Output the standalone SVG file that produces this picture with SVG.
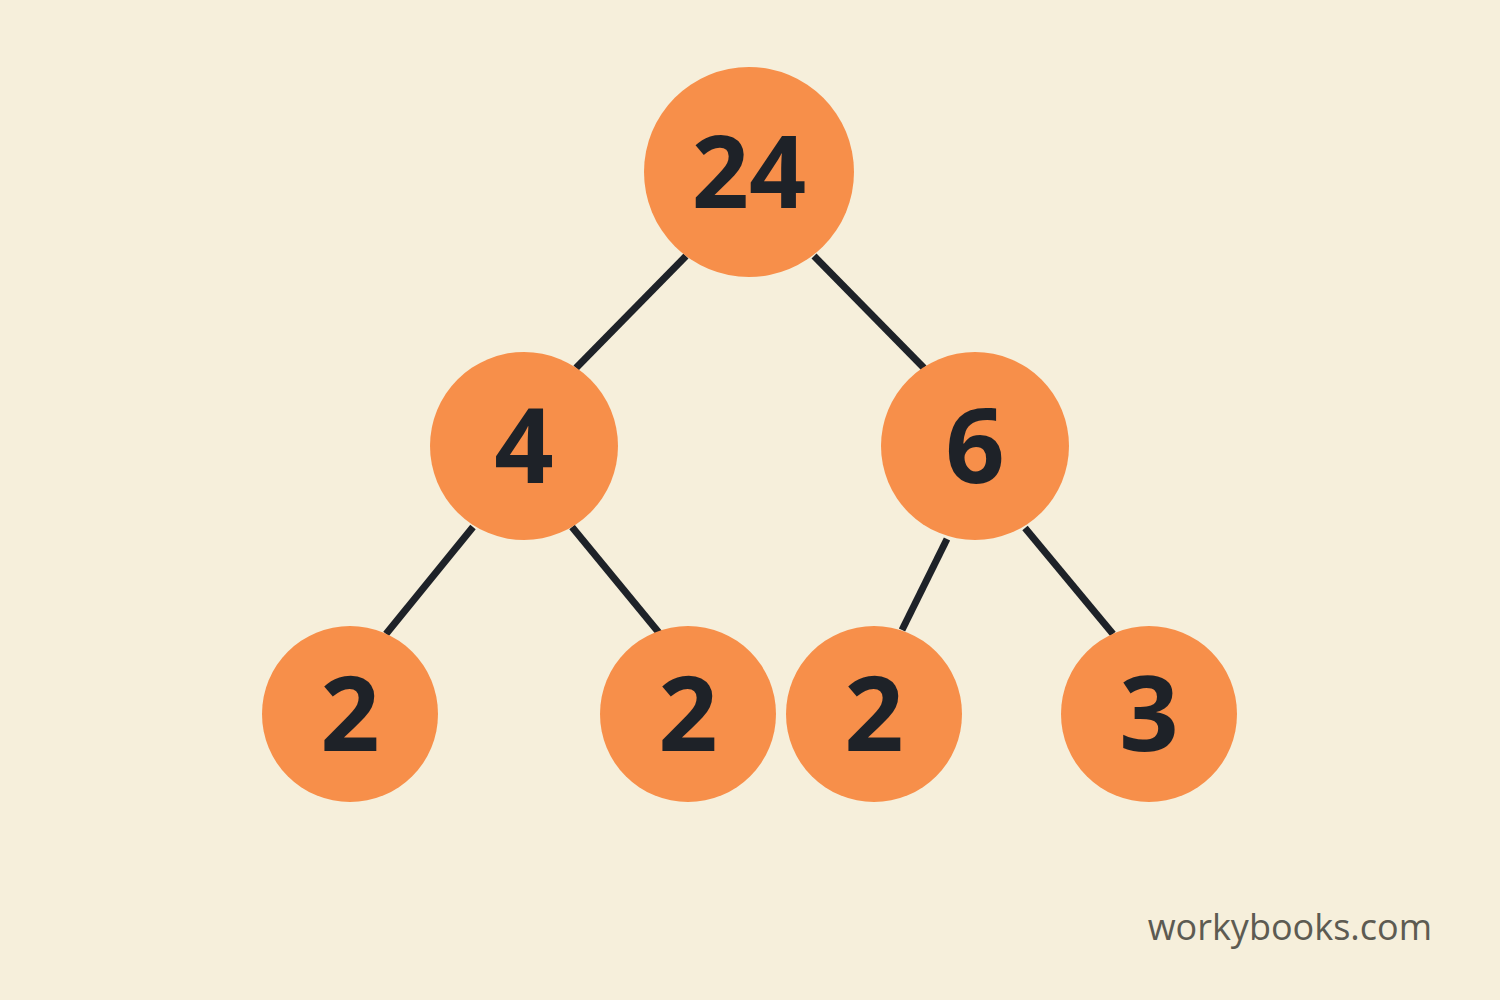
<svg xmlns="http://www.w3.org/2000/svg" width="1500" height="1000" viewBox="0 0 1500 1000">
<style>
.n{fill:#f78f4a}
.t{font-family:"Open Sans","Liberation Sans",sans-serif;font-weight:700;fill:#1e2228;text-anchor:middle}
.e{stroke:#1e2228;stroke-width:7;stroke-linecap:butt}
</style>
<rect width="1500" height="1000" fill="#f6efdb"/>
<g id="connectors">
<line class="e" x1="686" y1="256" x2="576" y2="368"/>
<line class="e" x1="814" y1="256" x2="924" y2="368"/>
<line class="e" x1="473" y1="527" x2="386" y2="634"/>
<line class="e" x1="572" y1="527" x2="660" y2="634"/>
<line class="e" x1="947" y1="539" x2="902" y2="630"/>
<line class="e" x1="1025" y1="528" x2="1113" y2="634"/>
</g>
<g id="n24"><circle class="n" cx="749" cy="172" r="105"/><text class="t" x="749" y="208" font-size="100">24</text></g>
<g id="n4"><circle class="n" cx="524" cy="446" r="94"/><text class="t" x="524" y="483" font-size="104">4</text></g>
<g id="n6"><circle class="n" cx="975" cy="446" r="94"/><text class="t" x="975" y="483" font-size="104">6</text></g>
<g id="l1"><circle class="n" cx="350" cy="714" r="88"/><text class="t" x="350" y="751" font-size="104">2</text></g>
<g id="l2"><circle class="n" cx="688" cy="714" r="88"/><text class="t" x="688" y="751" font-size="104">2</text></g>
<g id="l3"><circle class="n" cx="874" cy="714" r="88"/><text class="t" x="874" y="751" font-size="104">2</text></g>
<g id="l4"><circle class="n" cx="1149" cy="714" r="88"/><text class="t" x="1149" y="751" font-size="104">3</text></g>
<text x="1432" y="940" font-size="36" font-family="'Open Sans','Liberation Sans',sans-serif" fill="#5d5b52" text-anchor="end">workybooks.com</text>
</svg>
